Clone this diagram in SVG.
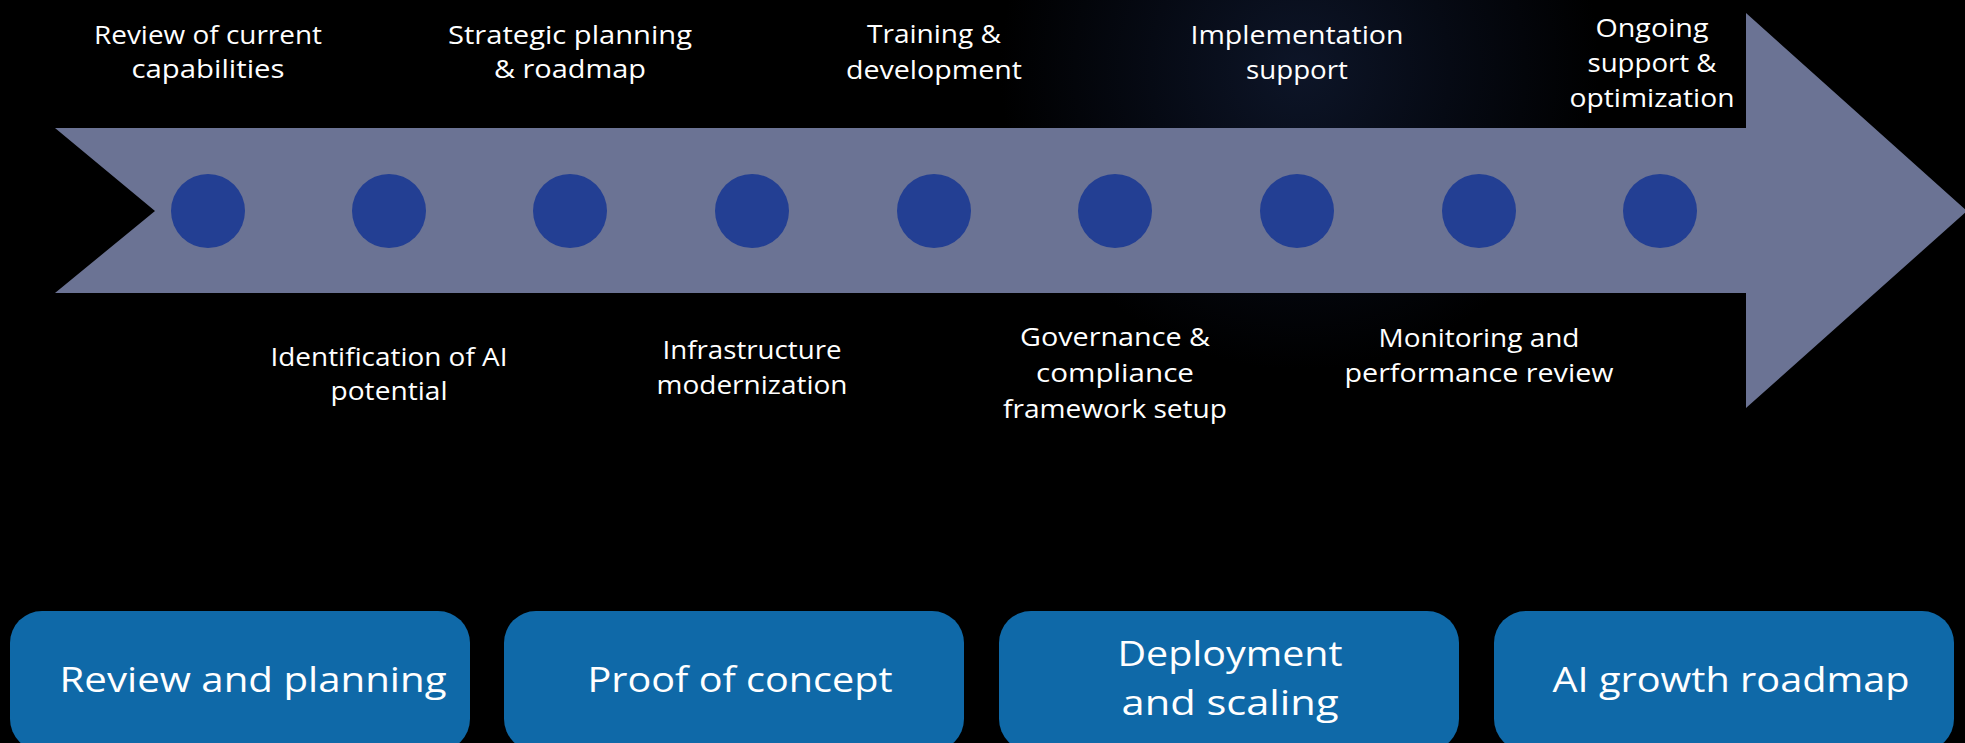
<svg xmlns="http://www.w3.org/2000/svg" width="1965" height="743" viewBox="0 0 1965 743">
<defs>
<radialGradient id="glow" cx="1300" cy="70" r="300" gradientUnits="userSpaceOnUse">
<stop offset="0" stop-color="#0d1528"/>
<stop offset="0.5" stop-color="#060a14"/>
<stop offset="1" stop-color="#000000"/>
</radialGradient>
</defs>
<style>
.lbl{font-family:"Open Sans","Liberation Sans",sans-serif;font-size:25px;fill:#ffffff;text-anchor:middle}
.box{fill:#0f69a8}
.btxt{font-family:"Open Sans","Liberation Sans",sans-serif;font-size:35px;fill:#ffffff;text-anchor:middle}
.dot{fill:#233f93}
</style>
<rect width="1965" height="743" fill="#000000"/>
<rect width="1965" height="743" fill="url(#glow)"/>
<g id="arrow">
<polygon points="55,128 1746,128 1746,13 1967,211 1746,408 1746,293 55,293 155,211" fill="#6b7394"/>
</g>
<g id="connectors"></g>
<g id="step1"><circle class="dot" cx="208" cy="211" r="37"/><text class="lbl" x="208" y="44" textLength="228" lengthAdjust="spacingAndGlyphs">Review of current</text><text class="lbl" x="208" y="78" textLength="153" lengthAdjust="spacingAndGlyphs">capabilities</text></g>
<g id="step2"><circle class="dot" cx="389" cy="211" r="37"/><text class="lbl" x="389" y="366" textLength="237" lengthAdjust="spacingAndGlyphs">Identification of AI</text><text class="lbl" x="389" y="400" textLength="117" lengthAdjust="spacingAndGlyphs">potential</text></g>
<g id="step3"><circle class="dot" cx="570" cy="211" r="37"/><text class="lbl" x="570" y="44" textLength="244" lengthAdjust="spacingAndGlyphs">Strategic planning</text><text class="lbl" x="570" y="78" textLength="152" lengthAdjust="spacingAndGlyphs">&amp; roadmap</text></g>
<g id="step4"><circle class="dot" cx="752" cy="211" r="37"/><text class="lbl" x="752" y="359" textLength="179" lengthAdjust="spacingAndGlyphs">Infrastructure</text><text class="lbl" x="752" y="394" textLength="191" lengthAdjust="spacingAndGlyphs">modernization</text></g>
<g id="step5"><circle class="dot" cx="934" cy="211" r="37"/><text class="lbl" x="934" y="43" textLength="134" lengthAdjust="spacingAndGlyphs">Training &amp;</text><text class="lbl" x="934" y="79" textLength="176" lengthAdjust="spacingAndGlyphs">development</text></g>
<g id="step6"><circle class="dot" cx="1115" cy="211" r="37"/><text class="lbl" x="1115" y="346" textLength="190" lengthAdjust="spacingAndGlyphs">Governance &amp;</text><text class="lbl" x="1115" y="382" textLength="158" lengthAdjust="spacingAndGlyphs">compliance</text><text class="lbl" x="1115" y="418" textLength="224" lengthAdjust="spacingAndGlyphs">framework setup</text></g>
<g id="step7"><circle class="dot" cx="1297" cy="211" r="37"/><text class="lbl" x="1297" y="44" textLength="213" lengthAdjust="spacingAndGlyphs">Implementation</text><text class="lbl" x="1297" y="79" textLength="102" lengthAdjust="spacingAndGlyphs">support</text></g>
<g id="step8"><circle class="dot" cx="1479" cy="211" r="37"/><text class="lbl" x="1479" y="347" textLength="201" lengthAdjust="spacingAndGlyphs">Monitoring and</text><text class="lbl" x="1479" y="382" textLength="269" lengthAdjust="spacingAndGlyphs">performance review</text></g>
<g id="step9"><circle class="dot" cx="1660" cy="211" r="37"/><text class="lbl" x="1652" y="37" textLength="113" lengthAdjust="spacingAndGlyphs">Ongoing</text><text class="lbl" x="1652" y="72" textLength="129" lengthAdjust="spacingAndGlyphs">support &amp;</text><text class="lbl" x="1652" y="107" textLength="165" lengthAdjust="spacingAndGlyphs">optimization</text></g>
<g id="phase1"><rect class="box" x="10" y="611" width="460" height="140" rx="32"/><text class="btxt" x="253" y="692" textLength="387" lengthAdjust="spacingAndGlyphs">Review and planning</text></g>
<g id="phase2"><rect class="box" x="504" y="611" width="460" height="140" rx="32"/><text class="btxt" x="740" y="692" textLength="305" lengthAdjust="spacingAndGlyphs">Proof of concept</text></g>
<g id="phase3"><rect class="box" x="999" y="611" width="460" height="140" rx="32"/><text class="btxt" x="1230" y="666" textLength="225" lengthAdjust="spacingAndGlyphs">Deployment</text><text class="btxt" x="1230" y="715" textLength="217" lengthAdjust="spacingAndGlyphs">and scaling</text></g>
<g id="phase4"><rect class="box" x="1494" y="611" width="460" height="140" rx="32"/><text class="btxt" x="1731" y="692" textLength="357" lengthAdjust="spacingAndGlyphs">AI growth roadmap</text></g>
</svg>
